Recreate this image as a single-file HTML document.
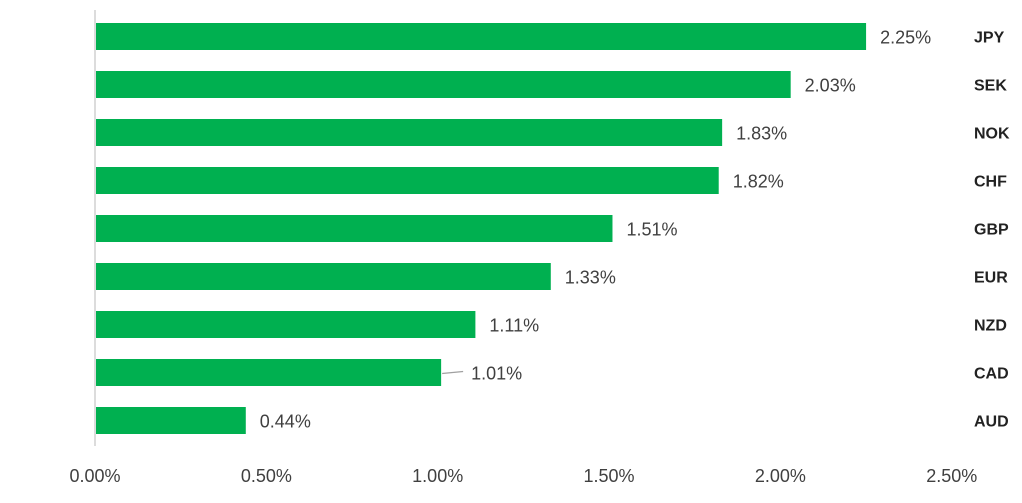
<!DOCTYPE html>
<html><head><meta charset="utf-8"><style>
body{margin:0;background:#fff;}
svg text{font-family:"Liberation Sans",sans-serif;}
</style></head><body>
<svg id="chart" width="1022" height="498" viewBox="0 0 1022 498" xmlns="http://www.w3.org/2000/svg">
<line x1="95" y1="10" x2="95" y2="446" stroke="#d0d0d0" stroke-width="1.5"/>
<g id="bars"></g>
</svg>
<script>
const categories = ["JPY","SEK","NOK","CHF","GBP","EUR","NZD","CAD","AUD"];
const values = [2.25,2.03,1.83,1.82,1.51,1.33,1.11,1.01,0.44];
const ticks = [0,0.5,1,1.5,2,2.5];
const tickLabels = ["0.00%","0.50%","1.00%","1.50%","2.00%","2.50%"];
const NS="http://www.w3.org/2000/svg";
const svg=document.getElementById('chart');
const g=document.getElementById('bars');
const x0=95, scale=342.7;
function xs(v){return x0+v*scale;}
function yc(i){return 36.5+i*48;}
const bh=27;
function mk(tag,attrs,parent){const e=document.createElementNS(NS,tag);for(const k in attrs)e.setAttribute(k,attrs[k]);(parent||svg).appendChild(e);return e;}
categories.forEach((c,i)=>{
  const y=yc(i), v=values[i];
  const r=mk('rect',{x:x0+1,y:y-bh/2,width:xs(v)-x0-1,height:bh,fill:'#00B050'},g);
  
  
  let lx=xs(v)+14;
  if(c==='CAD'){
    const l=mk('line',{x1:xs(v)+1,y1:y+1,x2:xs(v)+22,y2:y-1,stroke:'#a0a0a0','stroke-width':1.2},g);
    
    
    lx=xs(v)+30;
  }
  const t=mk('text',{x:lx,y:y+7,'font-size':18,fill:'#404040'},g);
  t.textContent=v.toFixed(2)+'%';
  
  
  const ct=mk('text',{x:974,y:y+6,'font-size':16,'font-weight':'bold',fill:'#222'},g);
  ct.textContent=c;
  
  
});
ticks.forEach((tv,i)=>{
  const t=mk('text',{x:xs(tv),y:482,'font-size':18,fill:'#404040','text-anchor':'middle'});
  t.textContent=tickLabels[i];
  
  
});
</script>
</body></html>
